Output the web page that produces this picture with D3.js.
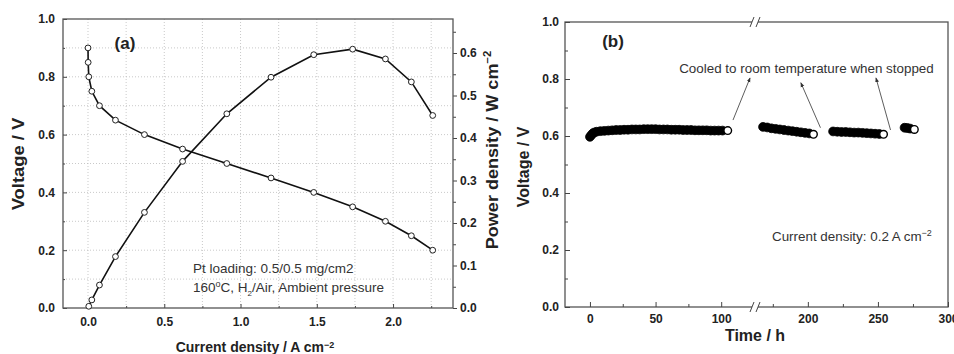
<!DOCTYPE html>
<html>
<head>
<meta charset="utf-8">
<script src="https://cdn.jsdelivr.net/npm/d3@7"></script>
<style>
body { margin: 0; background: #fff; }
svg { display: block; font-family: "Liberation Sans", Arial, sans-serif; }
.axis text { font-size: 12px; font-weight: bold; fill: #222; }
.axis line { stroke: #444; }
</style>
</head>
<body>
<div id="chart"></div>
<script>
// panel (a): polarization + power curve
var currentDensity = [0, 0.001, 0.005, 0.025, 0.075, 0.18, 0.37, 0.62, 0.91, 1.2, 1.48, 1.735, 1.95, 2.12, 2.26];
var voltage = [0.9, 0.85, 0.8, 0.75, 0.7, 0.65, 0.6, 0.55, 0.5, 0.45, 0.4, 0.35, 0.3, 0.25, 0.2];
var powerDensity = [0, 0.001, 0.004, 0.019, 0.054, 0.121, 0.225, 0.345, 0.457, 0.543, 0.596, 0.609, 0.586, 0.532, 0.453];

// panel (b): durability test at 0.2 A cm-2, one array per run
var runTimes = [
  [0, 1, 2, 3, 5, 8, 11, 14, 17, 20, 23, 26, 29, 32, 35, 38, 41, 44, 47, 50, 53, 56, 59, 62, 65, 68, 71, 74, 77, 80, 83, 86, 89, 92, 95, 98, 101, 105],
  [168, 171, 174, 177, 180, 183, 186, 189, 192, 195, 198, 201, 204],
  [218, 221, 224, 227, 230, 233, 236, 239, 242, 245, 248, 251, 254],
  [269, 271, 273, 276]
];
var runVoltages = [
  [0.597, 0.603, 0.608, 0.612, 0.615, 0.617, 0.618, 0.619, 0.620, 0.621, 0.621, 0.622, 0.622, 0.623, 0.623, 0.623, 0.624, 0.624, 0.624, 0.624, 0.623, 0.623, 0.623, 0.622, 0.622, 0.622, 0.621, 0.621, 0.621, 0.620, 0.620, 0.620, 0.620, 0.619, 0.619, 0.619, 0.619, 0.619],
  [0.632, 0.630, 0.627, 0.625, 0.623, 0.621, 0.619, 0.617, 0.615, 0.613, 0.611, 0.609, 0.606],
  [0.616, 0.615, 0.614, 0.614, 0.613, 0.612, 0.612, 0.611, 0.610, 0.609, 0.608, 0.607, 0.606],
  [0.629, 0.628, 0.626, 0.623]
];

// tick values
var voltTicks = [0, 0.2, 0.4, 0.6, 0.8, 1.0];
var voltMinor = [0.1, 0.3, 0.5, 0.7, 0.9];
var currentTicks = [0, 0.5, 1.0, 1.5, 2.0];
var currentMinor = [0.25, 0.75, 1.25, 1.75, 2.25];
var powerTicks = [0, 0.1, 0.2, 0.3, 0.4, 0.5, 0.6];
var powerMinor = [0.05, 0.15, 0.25, 0.35, 0.45, 0.55, 0.65];
var timeTicks1 = [0, 50, 100];
var timeMinor1 = [25, 75];
var timeTicks2 = [200, 250, 300];
var timeMinor2 = [175, 225, 275];

var svg = d3.select("#chart")
  .append("svg")
    .attr("width", 954)
    .attr("height", 354);

// arrow head for the annotations
svg.append("defs").append("marker")
  .attr("id", "arrow")
  .attr("viewBox", "0 0 10 10")
  .attr("refX", 9)
  .attr("refY", 5)
  .attr("markerWidth", 6)
  .attr("markerHeight", 6)
  .attr("orient", "auto")
  .append("path")
    .attr("d", "M0,1 L10,5 L0,9 z")
    .attr("fill", "#333");

function styleAxis(g) {
  g.select(".domain").remove();
  g.attr("class", "axis");
}

// ================= panel (a) =================
var xA = d3.scaleLinear().domain([-0.164, 2.393]).range([63, 453]);
var yA = d3.scaleLinear().domain([0, 1]).range([308, 19]);
var yP = d3.scaleLinear().domain([0, 0.68]).range([308, 19]);

var gA = svg.append("g");

// dotted grid
gA.append("g").selectAll("line")
  .data(voltMinor.concat(voltTicks.slice(1, 5)))
  .enter().append("line")
    .attr("x1", xA.range()[0])
    .attr("x2", xA.range()[1])
    .attr("y1", function(d) { return yA(d); })
    .attr("y2", function(d) { return yA(d); })
    .attr("stroke", "#bbb")
    .attr("stroke-width", 0.8)
    .attr("stroke-dasharray", "1,2");

gA.append("g").selectAll("line")
  .data(currentTicks.concat(currentMinor))
  .enter().append("line")
    .attr("x1", function(d) { return xA(d); })
    .attr("x2", function(d) { return xA(d); })
    .attr("y1", yA.range()[0])
    .attr("y2", yA.range()[1])
    .attr("stroke", "#bbb")
    .attr("stroke-width", 0.8)
    .attr("stroke-dasharray", "1,2");

// left axis
gA.append("g")
  .attr("transform", "translate(" + xA.range()[0] + ",0)")
  .call(d3.axisLeft(yA).tickValues(voltTicks).tickSize(-4).tickPadding(8).tickFormat(d3.format(".1f")))
  .call(styleAxis);
gA.append("g")
  .attr("transform", "translate(" + xA.range()[0] + ",0)")
  .call(d3.axisLeft(yA).tickValues(voltMinor).tickSize(-2).tickFormat(""))
  .call(styleAxis);

// bottom axis
gA.append("g")
  .attr("transform", "translate(0," + yA.range()[0] + ")")
  .call(d3.axisBottom(xA).tickValues(currentTicks).tickSize(-4).tickPadding(9).tickFormat(d3.format(".1f")))
  .call(styleAxis);
gA.append("g")
  .attr("transform", "translate(0," + yA.range()[0] + ")")
  .call(d3.axisBottom(xA).tickValues(currentMinor).tickSize(-2).tickFormat(""))
  .call(styleAxis);

// right axis (power)
gA.append("g")
  .attr("transform", "translate(" + xA.range()[1] + ",0)")
  .call(d3.axisRight(yP).tickValues(powerTicks).tickSize(4).tickPadding(3).tickFormat(d3.format(".1f")))
  .call(styleAxis);
gA.append("g")
  .attr("transform", "translate(" + xA.range()[1] + ",0)")
  .call(d3.axisRight(yP).tickValues(powerMinor).tickSize(3).tickFormat(""))
  .call(styleAxis);

// frame
gA.append("rect")
  .attr("x", xA.range()[0])
  .attr("y", yA.range()[1])
  .attr("width", xA.range()[1] - xA.range()[0])
  .attr("height", yA.range()[0] - yA.range()[1])
  .attr("fill", "none")
  .attr("stroke", "#555")
  .attr("stroke-width", 1.3);

var polData = currentDensity.map(function(c, i) {
  return { i: c, v: voltage[i], p: powerDensity[i] };
});

var vLine = d3.line()
  .x(function(d) { return xA(d.i); })
  .y(function(d) { return yA(d.v); });
var pLine = d3.line()
  .x(function(d) { return xA(d.i); })
  .y(function(d) { return yP(d.p); });

gA.append("path").datum(polData)
  .attr("d", vLine)
  .attr("fill", "none")
  .attr("stroke", "#111")
  .attr("stroke-width", 1.6);
gA.append("path").datum(polData)
  .attr("d", pLine)
  .attr("fill", "none")
  .attr("stroke", "#111")
  .attr("stroke-width", 1.6);

gA.append("g").selectAll("circle")
  .data(polData)
  .enter().append("circle")
    .attr("cx", function(d) { return xA(d.i); })
    .attr("cy", function(d) { return yA(d.v); })
    .attr("r", 2.9)
    .attr("fill", "#fff")
    .attr("stroke", "#222")
    .attr("stroke-width", 1);
gA.append("g").selectAll("circle")
  .data(polData.slice(2))
  .enter().append("circle")
    .attr("cx", function(d) { return xA(d.i); })
    .attr("cy", function(d) { return yP(d.p); })
    .attr("r", 2.9)
    .attr("fill", "#fff")
    .attr("stroke", "#222")
    .attr("stroke-width", 1);

// labels (a)
gA.append("text")
  .attr("x", 125).attr("y", 49)
  .attr("text-anchor", "middle")
  .style("font-size", "17px").style("font-weight", "bold").style("fill", "#222")
  .text("(a)");

// rotated titles are stretched along their length, like the source
gA.append("text")
  .attr("transform", "translate(18,164) rotate(-90) scale(1.15,1)")
  .attr("text-anchor", "middle")
  .attr("dominant-baseline", "central")
  .style("font-size", "16px").style("font-weight", "bold").style("fill", "#222")
  .text("Voltage / V");

var pTitle = gA.append("text")
  .attr("transform", "translate(492,150) rotate(-90) scale(1.13,1)")
  .attr("text-anchor", "middle")
  .attr("dominant-baseline", "central")
  .style("font-size", "16px").style("font-weight", "bold").style("fill", "#222");
pTitle.append("tspan").text("Power density / W cm");
pTitle.append("tspan").attr("dy", "-0.5em").style("font-size", "10px").text("−2");

var cTitle = gA.append("text")
  .attr("x", 255).attr("y", 352)
  .attr("text-anchor", "middle")
  .style("font-size", "14px").style("font-weight", "bold").style("fill", "#222");
cTitle.append("tspan").text("Current density / A cm");
cTitle.append("tspan").attr("dy", "-0.5em").style("font-size", "9px").text("−2");

gA.append("text")
  .attr("x", 193).attr("y", 273)
  .style("font-size", "13.5px").style("fill", "#333")
  .text("Pt loading: 0.5/0.5 mg/cm2");
var cond = gA.append("text")
  .attr("x", 193).attr("y", 292)
  .style("font-size", "13.5px").style("fill", "#333");
cond.append("tspan").text("160");
cond.append("tspan").attr("dy", "-5").style("font-size", "9px").text("o");
cond.append("tspan").attr("dy", "5").text("C, H");
cond.append("tspan").attr("dy", "4").style("font-size", "8px").text("2");
cond.append("tspan").attr("dy", "-4").text("/Air, Ambient pressure");

// ================= panel (b) =================
var xB1 = d3.scaleLinear().domain([-19, 125]).range([565, 754]);
var xB2 = d3.scaleLinear().domain([163, 300]).range([756, 948]);
var yB = d3.scaleLinear().domain([0, 1]).range([307, 22]);

function xB(t) { return t < 140 ? xB1(t) : xB2(t); }

var gB = svg.append("g");

// frame
gB.append("rect")
  .attr("x", xB1.range()[0])
  .attr("y", yB.range()[1])
  .attr("width", xB2.range()[1] - xB1.range()[0])
  .attr("height", yB.range()[0] - yB.range()[1])
  .attr("fill", "none")
  .attr("stroke", "#555")
  .attr("stroke-width", 1.3);

gB.append("g")
  .attr("transform", "translate(" + xB1.range()[0] + ",0)")
  .call(d3.axisLeft(yB).tickValues(voltTicks).tickSize(-5).tickPadding(6).tickFormat(d3.format(".1f")))
  .call(styleAxis);
gB.append("g")
  .attr("transform", "translate(" + xB1.range()[0] + ",0)")
  .call(d3.axisLeft(yB).tickValues(voltMinor).tickSize(-3).tickFormat(""))
  .call(styleAxis);

[[xB1, timeTicks1, timeMinor1], [xB2, timeTicks2, timeMinor2]].forEach(function(s) {
  gB.append("g")
    .attr("transform", "translate(0," + yB.range()[0] + ")")
    .call(d3.axisBottom(s[0]).tickValues(s[1]).tickSize(-5).tickPadding(7))
    .call(styleAxis);
  gB.append("g")
    .attr("transform", "translate(0," + yB.range()[0] + ")")
    .call(d3.axisBottom(s[0]).tickValues(s[2]).tickSize(-3).tickFormat(""))
    .call(styleAxis);
});

// axis break marks on top and bottom
var breakX = (xB1.range()[1] + xB2.range()[0]) / 2;
[yB.range()[1], yB.range()[0]].forEach(function(yy) {
  gB.append("rect")
    .attr("x", breakX - 3).attr("y", yy - 2)
    .attr("width", 6).attr("height", 4)
    .attr("fill", "#fff");
  [-3, 3].forEach(function(off) {
    gB.append("line")
      .attr("x1", breakX + off - 2).attr("y1", yy + 5)
      .attr("x2", breakX + off + 2).attr("y2", yy - 5)
      .attr("stroke", "#444")
      .attr("stroke-width", 1);
  });
});

// data runs
runTimes.forEach(function(times, k) {
  var pts = times.map(function(t, i) { return { t: t, v: runVoltages[k][i] }; });
  gB.append("g").selectAll("circle")
    .data(pts)
    .enter().append("circle")
      .attr("cx", function(d) { return xB(d.t); })
      .attr("cy", function(d) { return yB(d.v); })
      .attr("r", function(d, i) { return i === pts.length - 1 ? 3.8 : 4.4; })
      .attr("fill", function(d, i) { return i === pts.length - 1 ? "#fff" : "#000"; })
      .attr("stroke", "#000")
      .attr("stroke-width", function(d, i) { return i === pts.length - 1 ? 1.4 : 0.8; });
});

// annotation arrows, tail and head in data units
var arrowTails = [[109, 0.656], [209, 0.629], [259, 0.621]];
var arrowHeads = [[122, 0.804], [195, 0.787], [248.6, 0.804]];
arrowTails.forEach(function(a, i) {
  gB.append("line")
    .attr("x1", xB(a[0])).attr("y1", yB(a[1]))
    .attr("x2", xB(arrowHeads[i][0])).attr("y2", yB(arrowHeads[i][1]))
    .attr("stroke", "#333")
    .attr("stroke-width", 0.8)
    .attr("marker-end", "url(#arrow)");
});

gB.append("text")
  .attr("x", xB(68)).attr("y", yB(0.82))
  .style("font-size", "13.4px").style("fill", "#333")
  .text("Cooled to room temperature when stopped");

var cd = gB.append("text")
  .attr("x", xB(174.4)).attr("y", yB(0.232))
  .style("font-size", "13.4px").style("fill", "#333");
cd.append("tspan").text("Current density: 0.2 A cm");
cd.append("tspan").attr("dy", "-0.5em").style("font-size", "9px").text("−2");

gB.append("text")
  .attr("x", 613).attr("y", 47)
  .attr("text-anchor", "middle")
  .style("font-size", "17px").style("font-weight", "bold").style("fill", "#222")
  .text("(b)");

gB.append("text")
  .attr("transform", "translate(523,167) rotate(-90)")
  .attr("text-anchor", "middle")
  .attr("dominant-baseline", "central")
  .style("font-size", "16px").style("font-weight", "bold").style("fill", "#222")
  .text("Voltage / V");

gB.append("text")
  .attr("x", breakX).attr("y", 341)
  .attr("text-anchor", "middle")
  .style("font-size", "16px").style("font-weight", "bold").style("fill", "#222")
  .text("Time / h");
</script>
</body>
</html>
